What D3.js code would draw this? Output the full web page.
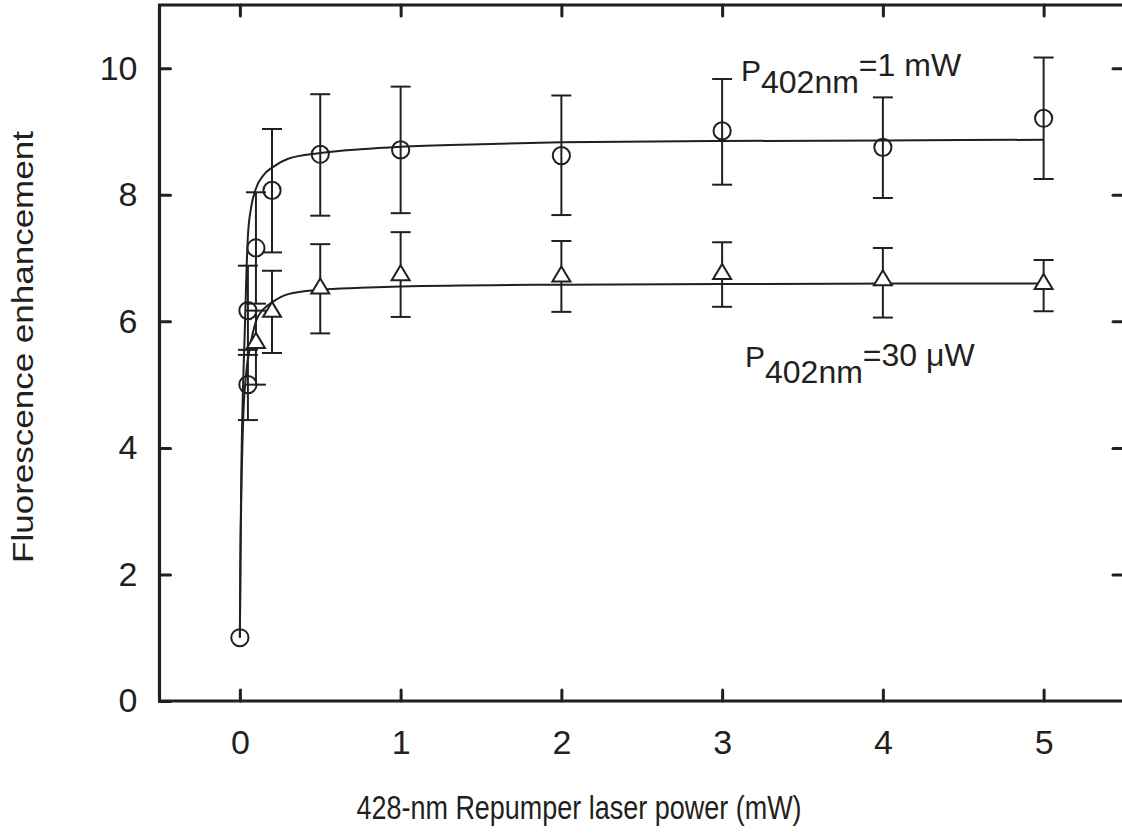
<!DOCTYPE html>
<html><head><meta charset="utf-8">
<script src="https://cdn.jsdelivr.net/npm/d3@7"></script>
<style>
body{margin:0;background:#fff}
svg{display:block;background:#fff}
text{font-family:"Liberation Sans",Arial,Helvetica,sans-serif;fill:#231f20}
</style>
</head><body><svg id="c" width="1122" height="837"></svg>
<script>
// ---- data ----
const xTicks = [0, 1, 2, 3, 4, 5];
const yTicks = [0, 2, 4, 6, 8, 10];
const xTitle = "428-nm Repumper laser power (mW)";
const yTitle = "Fluorescence enhancement";

// P402nm = 1 mW series (circles)
const circX  = [0, 0.05, 0.05, 0.1, 0.2, 0.5, 1, 2, 3, 4, 5];
const circY  = [1.0, 5.0, 6.17, 7.16, 8.07, 8.64, 8.71, 8.62, 9.01, 8.75, 9.21];
const circLo = [null, 4.44, 5.47, 6.28, 7.09, 7.67, 7.71, 7.68, 8.16, 7.95, 8.25];
const circHi = [null, 5.55, 6.88, 8.04, 9.04, 9.59, 9.71, 9.57, 9.83, 9.54, 10.17];

// P402nm = 30 uW series (triangles)
const triX  = [0.1, 0.2, 0.5, 1, 2, 3, 4, 5];
const triY  = [5.66, 6.15, 6.52, 6.73, 6.71, 6.75, 6.65, 6.59];
const triLo = [5.0, 5.5, 5.81, 6.07, 6.15, 6.23, 6.06, 6.16];
const triHi = [6.17, 6.8, 7.22, 7.41, 7.27, 7.25, 7.16, 6.97];

// fitted curves
const fitCircX = [0, 0.003, 0.01, 0.02, 0.03, 0.04, 0.05, 0.07, 0.1, 0.15, 0.2, 0.3, 0.5, 0.75, 1, 1.5, 2, 3, 4, 5];
const fitCircY = [1, 2.2, 3.8, 5.0, 5.8, 6.7, 7.35, 7.8, 8.1, 8.32, 8.43, 8.57, 8.66, 8.72, 8.76, 8.8, 8.83, 8.85, 8.86, 8.87];
const fitTriX  = [0, 0.005, 0.01, 0.02, 0.04, 0.06, 0.1, 0.15, 0.2, 0.3, 0.5, 0.75, 1, 2, 3, 5];
const fitTriY  = [1, 2.6, 3.4, 4.4, 5.2, 5.55, 6.0, 6.2, 6.3, 6.43, 6.5, 6.53, 6.55, 6.58, 6.59, 6.6];

// ---- drawing ----
const ink = "#231f20";
const svg = d3.select("#c");
svg.append("rect").attr("width",1122).attr("height",837).attr("fill","#fff");

const x = d3.scaleLinear().domain([-0.5, 5.5]).range([159.5, 1124]);
const y = d3.scaleLinear().domain([0, 11]).range([701, 5]);

const styleAxis = g => {
  g.select(".domain").remove();
  g.selectAll(".tick line").attr("stroke", ink).attr("stroke-width", 3).attr("stroke-linecap","round");
  g.selectAll(".tick text").attr("fill", ink).style("font-size","34px");
};

svg.append("g").attr("transform",`translate(0,${y(0)})`)
  .call(d3.axisBottom(x).tickValues(xTicks).tickSize(-11).tickPadding(29).tickFormat(d3.format("d")))
  .call(styleAxis);
svg.append("g").attr("transform",`translate(0,${y(11)})`)
  .call(d3.axisTop(x).tickValues(xTicks).tickSize(-11).tickFormat(""))
  .call(styleAxis);
svg.append("g").attr("transform",`translate(${x(-0.5)},0)`)
  .call(d3.axisLeft(y).tickValues(yTicks).tickSize(-11).tickPadding(22).tickFormat(d3.format("d")))
  .call(styleAxis);
svg.append("g").attr("transform",`translate(${x(5.5)},0)`)
  .call(d3.axisRight(y).tickValues(yTicks.filter(d=>d>0)).tickSize(-11).tickFormat(""))
  .call(styleAxis);

// frame
svg.append("path")
  .attr("d", `M${x(-0.5)},${y(11)}H${x(5.5)}V${y(0)}H${x(-0.5)}Z`)
  .attr("fill","none").attr("stroke",ink).attr("stroke-width",3.2);

// curves
const line = d3.line().curve(d3.curveMonotoneX).x(d=>x(d[0])).y(d=>y(d[1]));
svg.append("path").attr("d", line(d3.zip(fitCircX, fitCircY)))
  .attr("fill","none").attr("stroke",ink).attr("stroke-width",2);
svg.append("path").attr("d", line(d3.zip(fitTriX, fitTriY)))
  .attr("fill","none").attr("stroke",ink).attr("stroke-width",2);

// error bars
function errBars(xs, lo, hi){
  const g = svg.append("g").attr("stroke", ink).attr("stroke-width", 2).attr("fill","none");
  xs.forEach((xv,i)=>{
    if(lo[i]==null) return;
    const cx = x(xv);
    g.append("line").attr("x1",cx).attr("x2",cx).attr("y1",y(lo[i])).attr("y2",y(hi[i]));
    g.append("line").attr("x1",cx-10).attr("x2",cx+10).attr("y1",y(lo[i])).attr("y2",y(lo[i]));
    g.append("line").attr("x1",cx-10).attr("x2",cx+10).attr("y1",y(hi[i])).attr("y2",y(hi[i]));
  });
}
errBars(circX, circLo, circHi);
errBars(triX, triLo, triHi);

// markers
svg.append("g").selectAll("circle").data(d3.zip(circX, circY)).join("circle")
  .attr("cx", d=>x(d[0])).attr("cy", d=>y(d[1])).attr("r", 8.6)
  .attr("fill","none").attr("stroke",ink).attr("stroke-width",2);
svg.append("g").selectAll("path").data(d3.zip(triX, triY)).join("path")
  .attr("transform", d=>`translate(${x(d[0])},${y(d[1])})`)
  .attr("d","M0,-10L9,5H-9Z")
  .attr("fill","#fff").attr("stroke",ink).attr("stroke-width",2).attr("stroke-linejoin","miter");

// titles
svg.append("text").attr("x", 0).attr("y", 0).attr("text-anchor","middle")
  .style("font-size","32.5px").attr("transform","translate(579,819) scale(0.83,1)")
  .text(xTitle);
svg.append("text").attr("transform","translate(33,347) scale(0.83,1) rotate(-90)")
  .attr("text-anchor","middle").style("font-size","35px").text(yTitle);

// annotations
function annot(px, py, subDy, tailDy, tail){
  const t = svg.append("text").attr("x",px).attr("y",py);
  t.append("tspan").style("font-size","30px").text("P");
  t.append("tspan").attr("dy",subDy).style("font-size","32px").text("402nm");
  t.append("tspan").attr("dy",tailDy).style("font-size","32px").text(tail);
}
annot(741, 81, 12, -17, "=1 mW");
annot(745, 367, 16, -17, "=30 \u03bcW");
</script>
</body></html>
